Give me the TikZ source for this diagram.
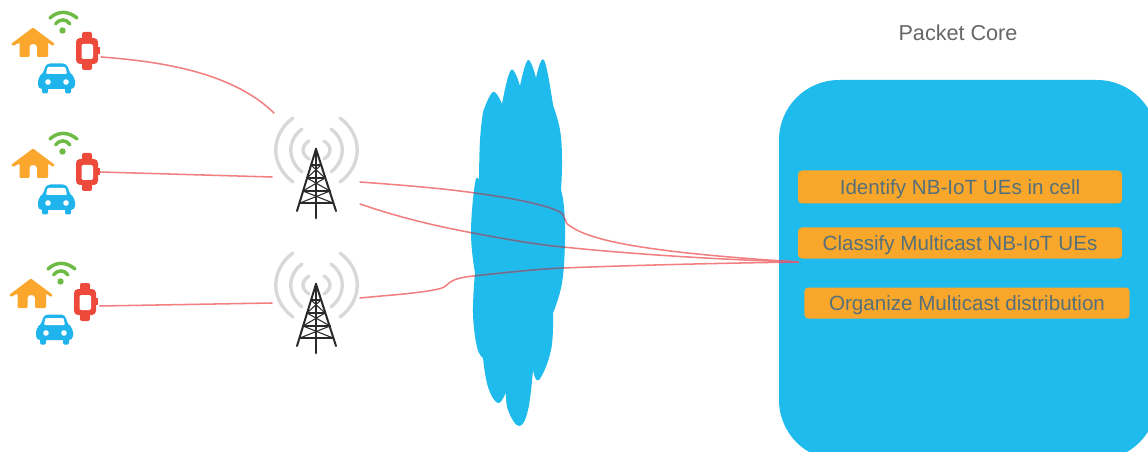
\documentclass[tikz,border=0pt]{standalone}
\usepackage{fontspec}
\setmainfont{Liberation Sans}
\definecolor{cloudblue}{HTML}{1EBBEC}
\definecolor{boxorange}{HTML}{F9A72B}
\definecolor{iconorange}{HTML}{FBA62D}
\definecolor{iconred}{HTML}{EE4A3C}
\definecolor{icongreen}{HTML}{6DBB45}
\definecolor{iconblue}{HTML}{1FB5EC}
\definecolor{linkpink}{HTML}{F27F80}
\definecolor{linkdark}{HTML}{5E7199}
\definecolor{linkmid}{HTML}{CC6280}
\definecolor{wavegrey}{HTML}{D8D8D8}
\definecolor{towerblack}{HTML}{2A2A2A}
\definecolor{labeltext}{HTML}{55707A}
\definecolor{titletext}{HTML}{666666}
\tikzset{
  link/.style={draw=linkpink,line width=1.15pt,line cap=round},
  stepbar/.style={draw=none,fill=boxorange,rounded corners=3pt,inner sep=0pt,text=labeltext,font=\fontsize{15.45pt}{17pt}\selectfont,text height=11.1pt,text depth=0pt,anchor=center},
  wave/.style={draw=wavegrey,line width=2.5pt,line cap=round},
  steel/.style={draw=towerblack,line width=1.5pt,line cap=round},
  ghost/.style={inner sep=0pt,draw=none,fill=none},
}
\newcommand{\cpeicons}[3]{%
 \begin{scope}[shift={(#1,#2)}]
  % house
  \fill[iconorange,rounded corners=0.8pt,even odd rule]
    (33,27.5) -- (55,44) -- (53,46) -- (48,42.5) -- (48,57) -- (37,57) -- (37,48)
    .. controls (37,43) and (29.5,43) .. (29.5,48) -- (29.5,57) -- (19.5,57) -- (19.5,42.5) -- (13,46) -- (11,44) -- cycle;
  % wifi
  \fill[icongreen] (62.5,30.5) circle (3.2);
  \draw[icongreen,line width=2.6pt,line cap=round] (55.5,24) .. controls (60,18.5) and (66,18.5) .. (70,24);
  \draw[icongreen,line width=2.6pt,line cap=round] (50,18) .. controls (58,10.5) and (68,10.5) .. (77,18);
  % watch
  \fill[iconred,rounded corners=1.5pt] (82,32) rectangle (92,70);
  \fill[iconred,rounded corners=3pt] (76,38) rectangle (98,64);
  \fill[iconred] (97,47) rectangle (100,54);
  \fill[white,rounded corners=1.5pt] (81.5,44) rectangle (93,59);
  \node[ghost,minimum width=24pt,minimum height=38pt] (#3) at (87,51) {};
  % car
  \fill[iconblue,rounded corners=3pt] (46,63.5) -- (67,63.5) -- (70,74) -- (75,77) -- (75,89) -- (38,89) -- (38,77) -- (43,74) -- cycle;
  \fill[iconblue,rounded corners=1pt] (42,86) rectangle (48,93.5);
  \fill[iconblue,rounded corners=1pt] (65,86) rectangle (71,93.5);
  \fill[white,rounded corners=0.8pt] (47.5,67) -- (65.5,67) -- (67,74) -- (46,74) -- cycle;
  \fill[white] (48,82) circle (2.8);
  \fill[white] (66,82) circle (2.8);
 \end{scope}}
\newcommand{\celltower}[3]{%
 \begin{scope}[shift={(#1,#2)}]
  \node[ghost,minimum width=66pt,minimum height=80pt] (#3) at (316,165) {};
  % radio waves
  \draw[wave] (293,118) .. controls (270,135) and (270,165) .. (293,182);
  \draw[wave] (302,129) .. controls (287,140) and (287,160) .. (302,172);
  \draw[wave] (309,141) .. controls (301,146) and (301,154) .. (309,159);
  \draw[wave] (340,118) .. controls (363,135) and (363,165) .. (340,182);
  \draw[wave] (331,129) .. controls (346,140) and (346,160) .. (331,172);
  \draw[wave] (324,141) .. controls (332,146) and (332,154) .. (324,159);
  % mast
  \draw[steel,line width=2.2pt] (316,149) -- (316,218);
  \draw[steel] (316,149) -- (297,211);
  \draw[steel] (316,149) -- (336,211);
  \draw[steel] (311,165) -- (321,165);
  \draw[steel] (307,178) -- (325,178);
  \draw[steel] (303,191) -- (330,191);
  \draw[steel] (300,203) -- (333,203);
  \draw[steel,line width=.8pt] (311,165) -- (325,178) -- (303,191) -- (333,203);
  \draw[steel,line width=.8pt] (321,165) -- (307,178) -- (330,191) -- (300,203);
 \end{scope}}
\newcommand{\cloudoutline}{%
  plot[smooth,tension=.7] coordinates {(483,112) (493,92) (502,104)}
  -- plot[smooth,tension=.7] coordinates {(502,104) (511,70) (520,86)}
  -- plot[smooth,tension=.7] coordinates {(520,86) (528,60) (536,78)}
  -- plot[smooth,tension=.7] coordinates {(536,78) (544,60) (553,105)}
  -- plot[smooth,tension=.7] coordinates {(553,105) (560,130) (562,160) (561,190)}
  -- plot[smooth,tension=.7] coordinates {(561,190) (564,207) (565,240) (562,283) (553,313)}
  -- plot[smooth,tension=.7] coordinates {(553,313) (551,350) (539,380) (533,370)}
  -- plot[smooth,tension=.7] coordinates {(533,370) (528,410) (519,426) (508,410) (506,392)}
  -- plot[smooth,tension=.7] coordinates {(506,392) (498,403) (488,387) (483,358)}
  -- plot[smooth,tension=.7] coordinates {(483,358) (477,347) (473,313) (475,273)}
  -- plot[smooth,tension=.7] coordinates {(475,273) (471,233) (475,183) (479,180)}
  -- plot[smooth,tension=.7] coordinates {(479,180) (480,140) (483,112)}
  -- cycle}
\newcommand{\corelinks}[1]{%
  \draw[link,#1] (t1a) .. controls (400,185) and (440,188) .. (475,193)
     .. controls (505,197) and (545,204) .. (560,212)
     .. controls (567,217) and (563,222) .. (570,226)
     .. controls (590,240) and (640,252) .. (corein);
  \draw[link,#1] (t1b) .. controls (395,216) and (430,225) .. (473,233)
     .. controls (510,240) and (540,245) .. (563,247)
     .. controls (640,255) and (730,260) .. (corein);
  \draw[link,#1] (t2a) .. controls (390,295) and (425,293) .. (442,288)
     .. controls (450,285) and (446,279) .. (473,276)
     .. controls (510,272) and (540,269) .. (563,268)
     .. controls (640,265) and (730,263) .. (corein);}
\begin{document}
\begin{tikzpicture}[x=0.75pt,y=-0.75pt]
\useasboundingbox (0,0) rectangle (1148,452);
\fill[white] (0,0) rectangle (1148,452);
% packet core
\begin{scope}
  \clip (0,0) rectangle (1148,452);
  \fill[cloudblue,rounded corners=45pt] (779,80) rectangle (1157,460);
\end{scope}
\node[ghost,text=titletext,font=\fontsize{16.2pt}{18pt}\selectfont] (title) at (958,33) {Packet Core};
% cloud
\fill[cloudblue] \cloudoutline;
% icons
\cpeicons{0}{0}{w1}
\cpeicons{0}{121}{w2}
\cpeicons{-2}{251}{w3}
\celltower{0}{0}{t1}
\celltower{0}{135}{t2}
% orange bars
\node[stepbar,minimum width=243pt,minimum height=24.75pt] (s1) at (960,187) {Identify NB-IoT UEs in cell};
\node[stepbar,minimum width=243pt,minimum height=23.25pt] (s2) at (960,243) {Classify Multicast NB-IoT UEs};
\node[stepbar,minimum width=244pt,minimum height=23.25pt] (s3) at (967,303) {Organize Multicast distribution};
% connector ends
\coordinate (w1o) at (101,57);
\coordinate (w2o) at (100,172);
\coordinate (w3o) at (100,306);
\coordinate (t1i) at (274,113);
\coordinate (t1j) at (272,177);
\coordinate (t2i) at (272,303);
\coordinate (t1a) at (360,182);
\coordinate (t1b) at (360,204);
\coordinate (t2a) at (360,298);
\coordinate (corein) at (798,262);
% access links
\draw[link] (w1o) .. controls (170,62) and (235,75) .. (t1i);
\draw[link] (w2o) -- (t1j);
\draw[link] (w3o) -- (t2i);
% backhaul links
\corelinks{}
\begin{scope}
  \clip \cloudoutline;
  \corelinks{draw=linkdark}
\end{scope}
\begin{scope}
  \clip (779,200) rectangle (900,300);
  \corelinks{draw=linkmid}
\end{scope}
\end{tikzpicture}
\end{document}
